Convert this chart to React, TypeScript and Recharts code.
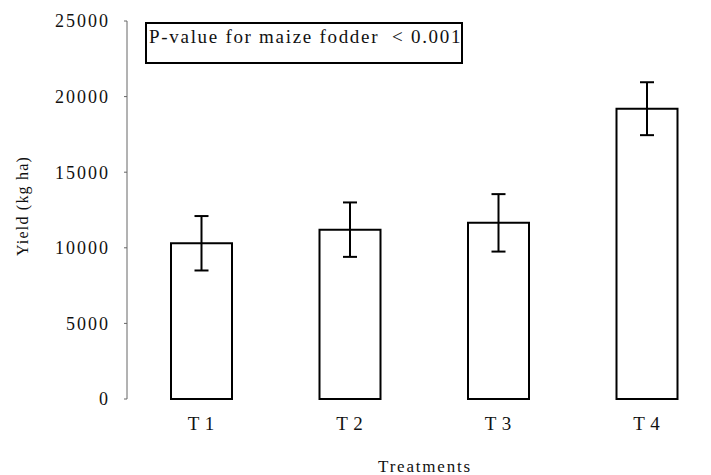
import React from "react";
import { BarChart, Bar, XAxis, YAxis, ErrorBar, Label } from "recharts";

const treatments = ["T1", "T2", "T3", "T4"];
const yieldMeans = [10300, 11200, 11650, 19200];
const yieldErrors = [1800, 1800, 1900, 1750];
const yTicks = [0, 5000, 10000, 15000, 20000, 25000];

const data = treatments.map((t, i) => ({
  name: t,
  value: yieldMeans[i],
  err: yieldErrors[i],
}));

const FONT = "Liberation Serif, Times New Roman, serif";

const App: React.FC = () => {
  return (
    <div style={{ position: "relative", width: 711, height: 475, fontFamily: FONT }}>
      <style>{"body{margin:0}"}</style>
      <BarChart
        width={711}
        height={475}
        data={data}
        barSize={61}
        margin={{ top: 21, right: -10, left: 0, bottom: 0 }}
      >
        <XAxis
          dataKey="name"
          axisLine={false}
          tickLine={false}
          height={76}
          tickFormatter={(v: string) => v.replace("T", "T ")}
          tick={{ fill: "#111", fontSize: 19, fontFamily: FONT, letterSpacing: 0.5, dy: 10 }}
        >
          <Label
            value="Treatments"
            position="insideBottom"
            offset={3}
            dx={1}
            style={{ fill: "#111", fontSize: 17, fontFamily: FONT, letterSpacing: 1.8 }}
          />
        </XAxis>
        <YAxis
          width={127}
          domain={[0, 25000]}
          ticks={yTicks}
          interval={0}
          stroke="#666"
          tickSize={3}
          tickMargin={14}
          tick={{ fill: "#111", fontSize: 18, fontFamily: FONT, letterSpacing: 2 }}
        >
          <Label
            value="Yield (kg ha)"
            angle={-90}
            position="insideLeft"
            offset={22}
            dy={-4}
            style={{ fill: "#111", fontSize: 16, fontFamily: FONT, letterSpacing: 1.2, textAnchor: "middle" }}
          />
        </YAxis>
        <Bar
          dataKey="value"
          fill="#fff"
          stroke="#000"
          strokeWidth={2}
          isAnimationActive={false}
        >
          <ErrorBar dataKey="err" width={7} stroke="#000" strokeWidth={2} />
        </Bar>
      </BarChart>
      <div
        style={{
          position: "absolute",
          left: 145,
          top: 22,
          width: 318,
          height: 42,
          border: "2px solid #000",
          fontSize: 19,
          letterSpacing: 1.7,
          paddingLeft: 2,
          lineHeight: "26px",
          boxSizing: "border-box",
          color: "#111",
          whiteSpace: "nowrap",
          overflow: "hidden",
        }}
      >
        P-value for maize fodder&nbsp; &lt; 0.001
      </div>
    </div>
  );
};

export default App;
